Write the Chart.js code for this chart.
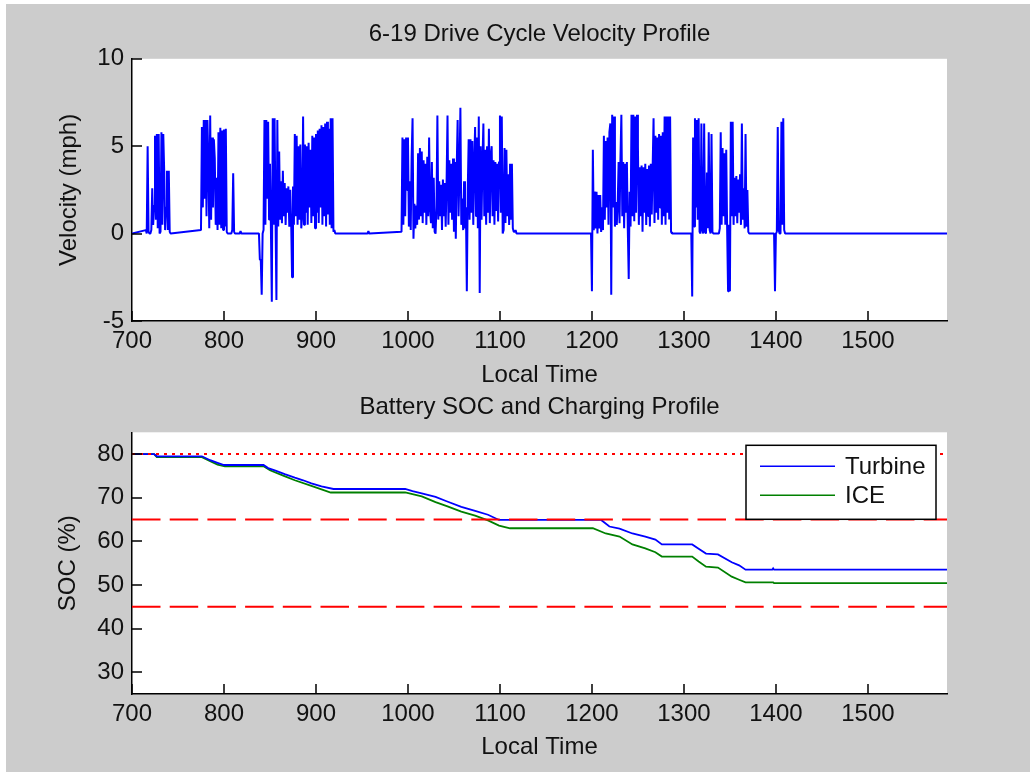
<!DOCTYPE html>
<html>
<head>
<meta charset="utf-8">
<title>6-19 Drive Cycle</title>
<script src="https://cdn.jsdelivr.net/npm/chart.js@4.4.1/dist/chart.umd.min.js"></script>
<style>
  html, body { margin: 0; padding: 0; background: #fff; }
  #fig { position: absolute; left: 6px; top: 4px; right: 0; bottom: 0; width: 1024px; height: 768px; background: #cccccc; }
  canvas { position: absolute; left: 0; }
  #velChart { top: 0; }
  #socChart { top: 390px; }
</style>
</head>
<body>
<div id="fig"></div>
<canvas id="velChart" width="1030" height="390"></canvas>
<canvas id="socChart" width="1030" height="382"></canvas>
<script>
// time axis
const timeMin = 700;
const timeMax = 1586;
const timeTicks = [700, 800, 900, 1000, 1100, 1200, 1300, 1400, 1500];
const velTicks = [-5, 0, 5, 10];
const socTicks = [30, 40, 50, 60, 70, 80];

// velocity (mph), one sample per time step, each burst starting at its time
const burst715 = [0.2, 0, 5.0, 0.1, 0, 0, 0.2, 2.6, 0.5, 1.6,
  5.6, 0.8, 5.7, 0.3, 5.7, 0, 0.1, 5.8, 0.5, 5.7,
  3.6, 0.2, 1.5, 3.6, 0.2, 3.6, 0.1, 0];
const burst775 = [0.2, 6.1, 1.5, 6.5, 2.0, 6.5, 1.0, 6.5, 4.2, 0.3,
  6.75, 0.8, 5.5, 1.5, 5.4, 4.3, 0.5, 3.2, 0.2, 5.8,
  0.5, 6.05, 0.3, 5.9, 0.2, 5.95, 0.4, 6.0, 0.1, 0,
  0, 0, 0, 0, 0.2, 3.45, 0.1, 0, 0, 0,
  0, 0, 0, 0.15, 0];
const burst838 = [0, -1.5, -1.5, -3.5, 0, 0.2, 6.5, 0.5, 6.5, 2.0,
  6.4, 0.8, 4.0, 0.3, -3.9, 6.6, 0.5, 6.6, 1.0, -3.8,
  6.5, 0.4, 4.7, 0.8, 3.0, 0.6, 3.6, 1.0, 2.9, 0.5,
  2.6, 1.2, 2.7, 0.4, 2.5, 0.8, -2.5, 2.7, 0.5, 5.7,
  1.0, 5.6, 0.5, 5.0, 0.8, 5.1, 0.3, 1.0, 6.7, 0.5,
  5.1, 1.2, 5.0, 0.5, 5.2, 1.5, 4.8, 0.6, 5.6, 1.0,
  5.5, 0.3, 5.7, 1.2, 5.9, 0.6, 6.0, 1.5, 6.2, 0.5,
  6.1, 1.0, 6.3, 0.4, 6.4, 1.1, 6.0, 0.5, 6.6, 0.3,
  6.6, 0.1, 0.2, 0];
const burst956 = [0, 0.15, 0];
const burst993 = [0.1, 5.5, 0.5, 5.4, 1.0, 5.5, 2.5, 5.5, 0.4, 3.0,
  0.2, 4.4, 6.6, -0.3, 1.7, 0.3, 1.6, 0.5, 4.6, 0.8,
  4.9, 1.0, 4.7, 0.6, 4.2, 1.2, 4.0, 0.5, 4.4, 1.0,
  5.5, 1.5, 0.6, 4.1, 0.3, 3.2, 0.1, 0, 1.5, 6.75,
  0.8, 3.0, 1.0, 2.8, 0.2, 3.1, 1.0, 2.9, 0.4, 3.0,
  6.75, 0.5, 4.2, 1.2, 4.0, 0.8, 4.3, 0.1, 4.1, -0.3,
  3.8, 6.5, 1.0, 3.5, 7.2, 0.5, 2.0, 0.2, 3.0, 0.3,
  1.5, -3.3, 2.5, 5.4, 0.8, 5.4, 1.2, 5.3, 0.5, 4.0,
  6.1, 1.0, 5.5, 0.3, 6.7, -3.4, 5.0, 0.8, 4.2, 6.3,
  1.0, 4.8, 0.5, 5.0, 1.2, 6.0, 0.6, 4.5, 5.0, 1.0,
  4.2, 0.5, 4.1, 1.3, 4.0, 0.7, 4.1, 6.75, 1.2, 6.7,
  0, 0.2, 4.9, 0.6, 4.8, 1.0, 3.4, 0.5, 4.0, 0.8,
  4.0, 0.3, 0.1, 0.1, 0.2, 0];
const burst1198 = [0, 0, -3.3, 4.8, 0.2, 2.4, 0.3, 2.4, 0, 2.2,
  0.3, 2.2, 0.1, 1.5, 0.2, 5.6, 0.8, 5.3, 1.5, 5.5,
  0.5, 5.8, 6.3, -3.5, 6.8, 1.5, 6.7, 0.4, 1.8, 0.5,
  1.7, 4.1, 0.6, 4.3, 6.8, 1.0, 4.1, 0.3, 4.0, 1.2,
  4.1, 0.2, -2.6, 2.4, 0.4, 6.8, 1.0, 6.8, 0.7, 6.7,
  1.2, 6.8, 5.0, 0.5, 3.8, 1.0, 3.9, 0.1, 3.8, 1.2,
  4.0, 0.5, 3.7, 1.0, 3.9, 0.4, 4.0, 1.1, 3.8, 6.6,
  0.6, 5.6, 1.2, 5.5, 0.8, 5.7, 1.5, 5.6, 0.5, 5.8,
  1.0, 6.7, 0.5, 6.7, 1.2, 6.7, 0.8, 6.7, 0.1, 0];
const burst1307 = [0, 0, -3.6, 5.5, 0.4, 6.6, 1.5, 6.5, 0.8, 6.6,
  0.1, 0, 6.3, 0.2, 0, 6.3, 0.1, 0, 3.5, 0.3,
  5.8, 0.2, 0, 5.7, 0.1, 0, 0, 0, 0, 0,
  0, 0, 0.3, 5.8, 0.5, 4.9, 1.0, 4.6, 0.5, 4.8,
  0.2, -3.3, 0.5, -3.3, 6.4, 1.0, 6.4, 0.5, 3.2, 1.0,
  3.3, 0.6, 3.1, 1.2, 3.4, 0.5, 6.3, 0.8, 2.6, 0.3,
  5.7, 0.4, 2.5, 0.1, 0];
const burst1397 = [0, 0, -3.3, 0, 0.1, 6.1, 0.2, 0, 0, 6.4, 0.5, 6.6, 0.2, 0];

const burstStarts = [715, 775, 838, 956, 993, 1198, 1307, 1397];
const burstValues = [burst715, burst775, burst838, burst956, burst993, burst1198, burst1307, burst1397];

// battery state of charge (%), [time, soc]
const turbineSoc = [[700, 80], [724, 80], [727, 79.5], [776, 79.5], [785, 78.6], [793, 78.0],
  [800, 77.5], [843, 77.5], [848, 76.8], [856, 76.2], [866, 75.4], [877, 74.6], [886, 74.0],
  [895, 73.3], [906, 72.6], [919, 72.0], [997, 72.0], [1005, 71.5], [1015, 71.0], [1030, 70.2],
  [1042, 69.2], [1058, 67.9], [1073, 67.0], [1087, 66.1], [1099, 64.9], [1210, 64.9],
  [1219, 63.4], [1230, 62.9], [1244, 61.8], [1258, 61.1], [1269, 60.4], [1276, 59.3],
  [1309, 59.3], [1316, 58.3], [1324, 57.2], [1337, 57.0], [1352, 55.2], [1360, 54.5],
  [1367, 53.5], [1396, 53.5], [1397, 53.8], [1398, 53.5], [1586, 53.5]];
const iceSoc = [[700, 80], [724, 80], [727, 79.3], [776, 79.3], [785, 78.4], [793, 77.6],
  [801, 77.2], [843, 77.2], [850, 76.3], [865, 75.0], [877, 74.0], [895, 72.7], [906, 71.9],
  [916, 71.2], [997, 71.2], [1015, 70.3], [1030, 69.0], [1043, 68.0], [1058, 66.8], [1073, 65.9],
  [1087, 64.8], [1099, 63.6], [1111, 63.0], [1201, 63.0], [1215, 61.8], [1230, 61.1],
  [1244, 59.3], [1258, 58.4], [1269, 57.5], [1276, 56.5], [1309, 56.5], [1316, 55.4],
  [1324, 54.2], [1337, 54.0], [1352, 51.9], [1360, 51.2], [1367, 50.6], [1397, 50.6],
  [1398, 50.4], [1586, 50.4]];

// charge limits: upper (dotted), then the two dashed bounds
const socLimits = [80, 65, 45];

Chart.defaults.font.family = '"Liberation Sans", Arial, sans-serif';
Chart.defaults.font.size = 24;
Chart.defaults.color = '#111';
Chart.defaults.animation = false;

// velocity trace sits on zero between bursts
const velPoints = [{x: timeMin, y: 0}];
burstStarts.forEach((start, b) => {
  burstValues[b].forEach((v, i) => velPoints.push({x: start + i, y: v}));
});
velPoints.push({x: timeMax, y: 0});

const pairsToPoints = (pairs) => pairs.map((p) => ({x: p[0], y: p[1]}));

// white plot box on the grey figure
const plotBox = {
  id: 'plotBox',
  beforeDraw(chart) {
    const {ctx, chartArea: a} = chart;
    ctx.save();
    ctx.fillStyle = '#fff';
    ctx.fillRect(a.left, a.top, a.right - a.left, a.bottom - a.top);
    ctx.restore();
  }
};

// matlab style tick marks pointing into the plot
const inwardTicks = {
  id: 'inwardTicks',
  afterDraw(chart) {
    const {ctx, chartArea: a, scales} = chart;
    ctx.save();
    ctx.strokeStyle = '#000';
    ctx.lineWidth = 1.5;
    ctx.beginPath();
    scales.x.ticks.forEach((t) => {
      const px = Math.round(scales.x.getPixelForValue(t.value));
      ctx.moveTo(px, a.bottom);
      ctx.lineTo(px, a.bottom - 10);
    });
    scales.y.ticks.forEach((t) => {
      const py = Math.round(scales.y.getPixelForValue(t.value));
      ctx.moveTo(a.left, py);
      ctx.lineTo(a.left + 10, py);
    });
    ctx.stroke();
    ctx.restore();
  }
};

// boxed legend in the top right corner of the SOC plot
const socLegend = {
  id: 'socLegend',
  afterDraw(chart) {
    const {ctx, chartArea: a} = chart;
    const items = chart.data.datasets.filter((d) => d.showInLegend);
    const w = 190, h = 74;
    const left = a.right - 11 - w, top = a.top + 13;
    ctx.save();
    ctx.fillStyle = '#fff';
    ctx.fillRect(left, top, w, h);
    ctx.strokeStyle = '#000';
    ctx.lineWidth = 1.5;
    ctx.strokeRect(left, top, w, h);
    ctx.font = '24px "Liberation Sans", Arial, sans-serif';
    ctx.textBaseline = 'middle';
    ctx.fillStyle = '#111';
    items.forEach((d, i) => {
      const y = top + 21 + i * 29;
      ctx.strokeStyle = d.borderColor;
      ctx.lineWidth = 1.5;
      ctx.beginPath();
      ctx.moveTo(left + 14, y);
      ctx.lineTo(left + 89, y);
      ctx.stroke();
      ctx.fillText(d.label, left + 99, y + 1);
    });
    ctx.restore();
  }
};

function timeAxis(scaleHeight, titleGap) {
  return {
    type: 'linear',
    min: timeMin,
    max: timeMax,
    grid: {display: false, drawTicks: false},
    border: {display: true, color: '#000', width: 1.5},
    ticks: {padding: 6, autoSkip: false, maxRotation: 0, callback: (v) => String(v)},
    afterBuildTicks: (s) => { s.ticks = timeTicks.map((v) => ({value: v})); },
    afterFit: (s) => { s.height = scaleHeight; },
    title: {display: true, text: 'Local Time', padding: {top: 0, bottom: titleGap}}
  };
}

function valueAxis(min, max, ticks, label, titleGap) {
  return {
    type: 'linear',
    min: min,
    max: max,
    grid: {display: false, drawTicks: false},
    border: {display: true, color: '#000', width: 1.5},
    ticks: {padding: 8, autoSkip: false, callback: (v) => String(v)},
    afterBuildTicks: (s) => { s.ticks = ticks.map((v) => ({value: v})); },
    afterFit: (s) => { s.width = 132; },
    title: {display: true, text: label, padding: {top: titleGap, bottom: 0}}
  };
}

function titleOpts(text, padTop, padBottom) {
  return {
    display: true,
    text: text,
    fullSize: false,
    color: '#111',
    font: {size: 24, weight: 'normal'},
    padding: {top: padTop, bottom: padBottom}
  };
}

new Chart(document.getElementById('velChart'), {
  type: 'line',
  data: {
    datasets: [{
      label: 'Velocity',
      data: velPoints,
      borderColor: '#0000ff',
      borderWidth: 2,
      borderJoinStyle: 'bevel',
      pointRadius: 0,
      tension: 0
    }]
  },
  options: {
    responsive: false,
    parsing: false,
    layout: {padding: {left: 0, right: 83, top: 0, bottom: 0}},
    scales: {
      x: timeAxis(69, 0),
      y: valueAxis(-5, 10, velTicks, 'Velocity (mph)', 55)
    },
    plugins: {
      title: titleOpts('6-19 Drive Cycle Velocity Profile', 20, 10),
      legend: {display: false},
      tooltip: {enabled: false}
    }
  },
  plugins: [plotBox, inwardTicks]
});

const limitSets = socLimits.map((level, i) => ({
  label: 'limit ' + level,
  data: [{x: timeMin, y: level}, {x: timeMax, y: level}],
  borderColor: '#ff0000',
  borderWidth: 2,
  borderDash: i === 0 ? [3, 5] : [28.5, 9.2],
  pointRadius: 0,
  showInLegend: false
}));

new Chart(document.getElementById('socChart'), {
  type: 'line',
  data: {
    datasets: limitSets.concat([
      {
        label: 'Turbine',
        data: pairsToPoints(turbineSoc),
        borderColor: '#0000ff',
        borderWidth: 1.8,
        pointRadius: 0,
        tension: 0,
        showInLegend: true
      },
      {
        label: 'ICE',
        data: pairsToPoints(iceSoc),
        borderColor: '#008000',
        borderWidth: 1.8,
        pointRadius: 0,
        tension: 0,
        showInLegend: true
      }
    ])
  },
  options: {
    responsive: false,
    parsing: false,
    layout: {padding: {left: 0, right: 83, top: 0, bottom: 0}},
    scales: {
      x: timeAxis(78, 10.5),
      y: valueAxis(25, 85, socTicks, 'SOC (%)', 53.5)
    },
    plugins: {
      title: titleOpts('Battery SOC and Charging Profile', 3, 10.5),
      legend: {display: false},
      tooltip: {enabled: false}
    }
  },
  plugins: [plotBox, inwardTicks, socLegend]
});
</script>
</body>
</html>
